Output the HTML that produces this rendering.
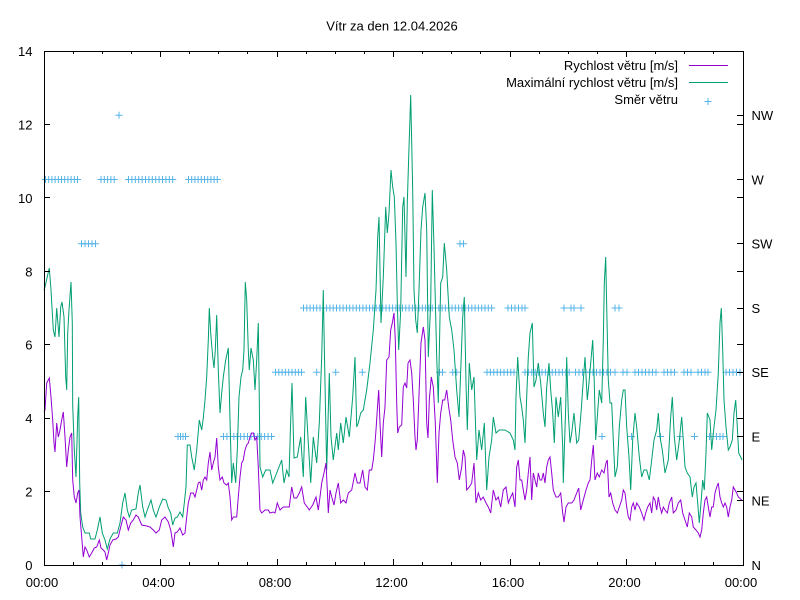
<!DOCTYPE html>
<html><head><meta charset="utf-8"><style>
html,body{margin:0;padding:0;background:#fff;}
svg{display:block;}
text{font-family:"Liberation Sans",Arial,sans-serif;font-size:13px;fill:#000;}
</style></head><body>
<svg width="800" height="600" viewBox="0 0 800 600" xmlns="http://www.w3.org/2000/svg">
<defs>
<marker id="m" markerWidth="9" markerHeight="9" refX="4.5" refY="4.5" markerUnits="userSpaceOnUse" overflow="visible"><path d="M1,4.5h7M4.5,1v7" stroke="#56b4e9" stroke-width="1" fill="none"/></marker>
</defs>
<rect width="800" height="600" fill="#fff"/>
<text x="392" y="30.5" text-anchor="middle">Vítr za den 12.04.2026</text>

<!-- direction points -->
<g fill="none" stroke="none" marker-start="url(#m)" marker-mid="url(#m)" marker-end="url(#m)">
<polyline points="45.5,179.5 48.7,179.5 51.9,179.5 55.1,179.5 58.3,179.5 61.5,179.5 64.7,179.5 67.9,179.5 71.1,179.5 74.3,179.5 77.5,179.5 101,179.5 104.3,179.5 107.6,179.5 110.9,179.5 114.2,179.5 128.5,179.5 131.9,179.5 135.3,179.5 138.7,179.5 142.1,179.5 145.5,179.5 148.9,179.5 152.3,179.5 155.7,179.5 159.1,179.5 162.5,179.5 165.9,179.5 169.3,179.5 172.7,179.5 188.5,179.5 191.7,179.5 194.9,179.5 198.1,179.5 201.3,179.5 204.5,179.5 207.7,179.5 210.9,179.5 214.1,179.5 217.3,179.5"/>
<polyline points="81.5,243.75 85,243.75 88.5,243.75 92,243.75 95.5,243.75 460,243.75 463.5,243.75"/>
<polyline points="119,115.25 122,565"/>
<polyline points="178,436.5 180.5,436.5 183,436.5 185.5,436.5 223.5,436.5 226.9,436.5 230.4,436.5 233.8,436.5 237.2,436.5 240.6,436.5 244.1,436.5 247.5,436.5 250.9,436.5 254.4,436.5 257.8,436.5 261.2,436.5 264.6,436.5 268.1,436.5 271.5,436.5 602,436.5 631.5,436.5 660.5,436.5 680,436.5 694.5,436.5 709.5,436.5 713,436.5 716.5,436.5 720,436.5 723,436.5"/>
<polyline points="275.5,372.25 278.8,372.25 282.1,372.25 285.4,372.25 288.7,372.25 292,372.25 295.3,372.25 298.6,372.25 301.5,372.25 316.7,372.25 335.7,372.25 362.3,372.25 439.5,372.25 442.5,372.25 452.7,372.25 456.7,372.25 487,372.25 490.4,372.25 493.8,372.25 497.2,372.25 500.6,372.25 504,372.25 507.4,372.25 510.8,372.25 514,372.25 525,372.25 528.4,372.25 531.8,372.25 535.2,372.25 538.6,372.25 542,372.25 545.4,372.25 548.8,372.25 552.2,372.25 555.6,372.25 559,372.25 562.4,372.25 565.8,372.25 569.2,372.25 575.5,372.25 579,372.25 582.5,372.25 586,372.25 589.5,372.25 593,372.25 596.5,372.25 600,372.25 603.5,372.25 607,372.25 610.5,372.25 615,372.25 623,372.25 627,372.25 635,372.25 638.5,372.25 642,372.25 645.5,372.25 649,372.25 652.5,372.25 656,372.25 664,372.25 667.5,372.25 671,372.25 674.5,372.25 684,372.25 687.5,372.25 691,372.25 698,372.25 701.5,372.25 705,372.25 708,372.25 726,372.25 729.5,372.25 733,372.25 736.5,372.25 740,372.25"/>
<polyline points="303.5,308 306.8,308 310.1,308 313.4,308 316.7,308 320,308 323.3,308 326.6,308 329.9,308 333.2,308 336.5,308 339.8,308 343.1,308 346.4,308 349.7,308 353,308 356.3,308 359.6,308 362.9,308 366.2,308 369.5,308 372.8,308 376.1,308 379.4,308 382.7,308 386,308 389.3,308 392.6,308 395.9,308 399.2,308 402.5,308 405.8,308 409.1,308 412.4,308 415.7,308 419,308 422.3,308 425.6,308 428.9,308 432.2,308 435.5,308 438.8,308 442.1,308 445.4,308 448.7,308 452,308 455.3,308 458.6,308 461.9,308 465.2,308 468.5,308 471.8,308 475.1,308 478.4,308 481.7,308 485,308 488.3,308 491.6,308 508,308 511.5,308 515,308 518.5,308 522,308 525,308 564,308 571,308 574,308 581,308 615,308 619,308"/>
</g>

<!-- max wind -->
<polyline fill="none" stroke="#009e73" stroke-width="1" points="44,290 45,287 47,278 49.3,268 51,290 53.3,330 55,337 56.7,308 59,337 60.7,307 62,302 64,317 65.7,377 66.7,390 67.7,333 69,310 71,282 72.3,323 72.7,405 74.3,450 76,477 77.7,417 78.7,397 79.7,483 80.7,513 82.7,527 85,533 89.3,533 90.7,539 95,539 97.3,530 100,517 102.3,533 105,540 107.3,549 110,539 113.3,533 117.3,533 120,523 122.7,503 125,493 127.3,510 129.3,517 131.7,510 136,509 138.3,493 140,485 142.7,507 145,517 147.3,510 151,500 153.3,510 156,517 159.3,507 162.7,499 166,500 168.3,508 170.7,513 172.7,525 175,518 177.3,517 180,512 182.7,517 184.3,503 186,487 187.3,445 190,445 191.7,457 194.3,470 196.7,450 199.3,420 201.7,430 203.3,418 205,400 206.7,377 208.3,340 209.3,308 210.7,333 212.7,357 214,368 215.3,350 216.7,315 218.3,370 220,413 221.7,393 223.3,377 225.7,360 228.3,348 230,420 231.7,483 233.3,463 235.7,483 237.3,450 239,397 241,377 242.7,370 244,350 245.3,282 246.7,300 248.3,350 249.3,370 251,348 253.3,360 255,390 256.7,360 258.3,323 259.3,400 260,467 262.7,477 265.7,470 270,470 272.7,483 276.7,473 281.7,460 284,483 286.7,470 289,477 290.7,420 292,383 294,458 297.3,457 300.7,437 303.3,477 305.7,397 308.3,443 310.7,483 313.3,437 316.7,463 319.3,423 321.7,357 323.3,290 324.3,347 326.7,470 329.3,373 331,437 333.3,460 336.7,433 338.3,450 340.7,423 343.3,443 346,417 349.3,437 352.7,397 355,357 356.7,427 358.3,423 360.7,413 363.3,410 366.7,390 370,363 373.3,330 376,290 377.7,237 379,217 381,323 383.3,277 385.7,207 387.3,233 389,213 391,170 392.7,187 394.3,197 396,243 397.3,303 398.7,350 400.7,310 402.7,207 404,197 406,277 407.3,203 408.7,157 410,117 410.7,95 412.7,190 414,290 415.7,320 417.3,333 419,290 421,230 422.7,207 425,193 426.7,230 428.3,357 430.7,303 432.3,190 434,247 436.7,357 438.3,403 440.7,283 442.7,277 444.3,243 446.7,270 449.3,317 451.7,330 454,350 456.7,390 459,417 461,363 462.7,317 464.3,297 466,383 467.3,430 469.3,363 471.7,390 474,377 475.7,430 476.7,460 479,430 481.7,450 484.3,423 486.7,490 489,457 491.7,440 493.3,417 496,433 499.3,430 505,430 510,433 513.3,440 515,450 516,397 517.7,357 520,397 521.7,407 523.3,420 525,443 526.7,397 528.3,357 530,333 532.3,323 534,387 536,380 538.3,363 540.7,383 543.3,413 545,427 546.7,387 549,363 550.7,390 552.7,413 554.3,443 556,397 558.3,417 560.7,397 562.7,447 563.3,483 565.7,407 566.7,357 568.3,413 570,443 571.7,433 574,413 576.7,443 578.7,440 581,413 583.3,380 585,357 587.3,400 589,383 590.7,363 592.7,340 594,373 595.7,440 597.3,417 599.3,390 601.7,403 603.3,340 604.3,283 605.7,257 606.7,307 608.3,380 610,403 611.7,403 613.3,440 615,477 617.3,467 619.3,427 621.7,400 623.3,390 625,390 626.7,427 629,457 630.7,490 632.7,440 635,413 636.7,427 639.3,457 641.7,477 644,470 646.7,470 649.3,480 651.7,460 654,440 656.7,430 658.3,413 660,437 662.3,450 665,473 668.3,460 670.7,417 672.3,397 674.3,437 676.7,460 679,443 681.7,417 683.3,440 685,467 687.3,473 690,477 692.3,497 694,487 696,483 697.7,503 699.3,523 701,503 702.7,480 704.3,490 706,453 707.3,413 710,420 711.7,450 714,427 716,410 718.3,373 720,323 721.3,308 722.7,350 724,400 726,427 728.3,450 730,447 732.3,440 734,413 735.7,400 737.3,427 738.7,453 740.7,457 742,460"/>

<!-- avg wind -->
<polyline fill="none" stroke="#9400d3" stroke-width="1" points="44,412 45,410 46.7,383 49.3,378 51,397 52.7,420 54,443 55,452 56.7,423 58.3,437 60,430 61.7,420 63.3,412 65,437 66.7,467 68.3,450 70,437 71.7,433 72.7,480 74.3,497 76,503 77.7,493 79,490 80,517 81.7,537 83.3,557 85,547 86.7,550 89.3,557 91.7,553 94.3,548 96.7,547 99.3,540 101,548 103.3,550 105,552 106.7,560 108.3,553 110,545 112.7,540 116,539 118.3,537 120.7,527 123.3,517 126,520 128.3,530 130.7,523 133.3,520 136,515 138.3,517 141.7,525 146.7,526 150,527 153.3,530 156,533 159.3,530 161.7,520 165,517 168.3,522 170.7,530 172.3,540 173.3,547 175,533 177.3,532 180,528 182.7,535 185,533 186.7,517 188.3,503 190.7,493 193.3,493 195,497 196.7,490 198.3,483 200,482 201.7,490 203.3,480 205,477 206.7,480 208.3,463 210,452 211.7,470 213.3,463 215,457 216.7,438 218.3,467 220,480 222.3,477 224,483 226.7,485 228.3,483 230,497 231.7,520 233.3,517 236.7,517 238.3,497 240,477 241.7,463 243.3,460 245,450 246.7,445 248.3,443 250,437 251.7,433 253.3,433 255,440 256.7,437 258.3,467 260,510 261.7,513 265,510 268.3,510 270,513 273.3,512 275,513 277.3,503 280,510 283.3,507 289.3,507 291.7,487 294,498 296.7,498 299.3,493 301.7,487 304.3,503 307.3,507 309.3,510 312.7,505 316,497 318.3,510 320,497 321.7,483 324,473 326,463 327.3,490 328.3,513 330,490 331.7,497 334,505 336,493 338.3,483 340.7,503 343.3,500 346,503 348.3,493 351.7,490 355,473 357.3,483 360,483 362.7,470 365,487 367.3,490 369.3,470 371.7,470 373.3,460 375,443 376,430 377.3,410 378.7,390 380,423 381.7,457 383.3,423 385,407 386.7,360 389,357 390.7,330 392.3,323 394,313 395.3,340 396.7,403 397.7,433 399.3,427 401.7,425 403.3,387 405,383 406.7,388 408,363 410,360 411.7,373 413.3,400 415,437 416,450 417.3,440 419.3,387 421,343 423.3,327 425,340 426.7,423 428,438 429.3,400 431.3,377 433.3,387 435.3,423 437.3,483 439,433 440.7,413 442.7,400 444.7,400 446.7,390 448.7,407 450.7,420 452.7,440 455,457 457.3,463 459.3,480 461.7,467 463.3,450 465,457 466.7,490 469.3,487 471.7,483 474,463 476,503 478.3,493 480.7,500 483.3,497 486,503 488.3,507 490.7,513 493.3,490 496,500 498.3,497 500.7,507 503.3,490 506,487 508.3,503 510.7,497 512.7,493 515,507 516.7,467 518.3,460 520,480 521.7,480 523.3,490 525,500 526.7,490 528.3,473 530,457 531.7,500 533.3,473 535,480 536.7,487 538.3,473 540,480 541.7,480 543.3,473 545,483 546.7,467 548.3,460 550,457 551.7,473 553.3,490 556,497 558.3,497 560.7,493 562.7,513 564,522 566,507 568.3,503 571.7,503 574,500 576.7,493 578.7,488 580.7,510 583.3,500 586,490 588.3,483 590,480 591.7,460 593.3,445 595,480 597.3,473 599.3,477 601.7,470 604,473 606,463 607.3,460 609,497 610.7,493 612.7,503 615,510 617.3,513 619.3,507 621.7,500 623.3,490 625,493 626.7,507 628.3,517 630,520 631.7,507 633.3,503 635,510 636.7,503 639.3,507 641.7,513 644,520 645.7,513 647.7,507 650,503 651.7,513 653.3,497 655,500 656.7,510 658.3,497 660,507 661.7,513 663.3,507 665,510 667.3,513 669.3,503 671.7,497 673.3,513 676,510 678.3,503 680.7,500 682.7,513 685,520 687.3,527 689.3,513 691.7,517 693.3,527 696,530 698.3,533 700,537 701.7,530 703.3,513 705,500 706.7,497 708.3,507 710,517 711.7,507 713.3,507 715,493 716.7,487 718.3,483 720,497 721.7,503 723.3,507 725,503 726.7,507 728.3,517 730,507 731.7,500 733.3,487 735,490 736.7,493 738.3,497 741.7,500"/>

<!-- border & ticks -->
<rect x="44.5" y="51.5" width="699" height="514" fill="none" stroke="#000" stroke-width="1"/>
<path stroke="#000" stroke-width="1" fill="none" d="
M44,565.5h6M44,491.5h6M44,418.5h6M44,344.5h6M44,271.5h6M44,197.5h6M44,124.5h6M44,51.5h6
M743,565.5h-6M743,491.5h-6M743,418.5h-6M743,344.5h-6M743,271.5h-6M743,197.5h-6M743,124.5h-6
M743,500.5h-6M743,436.5h-6M743,372.5h-6M743,308.5h-6M743,243.5h-6M743,179.5h-6M743,115.5h-6
M44.5,565v-6M160.5,565v-6M277.5,565v-6M393.5,565v-6M510.5,565v-6M626.5,565v-6M743.5,565v-6
M44.5,51v6M160.5,51v6M277.5,51v6M393.5,51v6M510.5,51v6M626.5,51v6M743.5,51v6
M73.5,565v-3M102.5,565v-3M131.5,565v-3M189.5,565v-3M218.5,565v-3M247.5,565v-3M306.5,565v-3M335.5,565v-3M364.5,565v-3M422.5,565v-3M451.5,565v-3M480.5,565v-3M539.5,565v-3M568.5,565v-3M597.5,565v-3M655.5,565v-3M684.5,565v-3M713.5,565v-3
M73.5,51v3M102.5,51v3M131.5,51v3M189.5,51v3M218.5,51v3M247.5,51v3M306.5,51v3M335.5,51v3M364.5,51v3M422.5,51v3M451.5,51v3M480.5,51v3M539.5,51v3M568.5,51v3M597.5,51v3M655.5,51v3M684.5,51v3M713.5,51v3"/>

<!-- y labels -->
<g text-anchor="end">
<text x="32.5" y="570">0</text>
<text x="32.5" y="496.6">2</text>
<text x="32.5" y="423.1">4</text>
<text x="32.5" y="349.7">6</text>
<text x="32.5" y="276.3">8</text>
<text x="32.5" y="202.9">10</text>
<text x="32.5" y="129.4">12</text>
<text x="32.5" y="56">14</text>
</g>
<g text-anchor="start">
<text x="751.5" y="570">N</text>
<text x="751.5" y="505.7">NE</text>
<text x="751.5" y="441.5">E</text>
<text x="751.5" y="377.2">SE</text>
<text x="751.5" y="313">S</text>
<text x="751.5" y="248.7">SW</text>
<text x="751.5" y="184.5">W</text>
<text x="751.5" y="120.2">NW</text>
</g>
<g text-anchor="middle">
<text x="42" y="587">00:00</text>
<text x="158.5" y="587">04:00</text>
<text x="275" y="587">08:00</text>
<text x="391.5" y="587">12:00</text>
<text x="508" y="587">16:00</text>
<text x="624.5" y="587">20:00</text>
<text x="741" y="587">00:00</text>
</g>

<!-- legend -->
<g text-anchor="end" style="font-size:13.7px">
<text x="678" y="70">Rychlost větru [m/s]</text>
<text x="678" y="87">Maximální rychlost větru [m/s]</text>
<text x="678" y="104">Směr větru</text>
</g>
<path d="M689,65.5h39" stroke="#9400d3" stroke-width="1"/>
<path d="M689,82.5h39" stroke="#009e73" stroke-width="1"/>
<path d="M704.5,101.5h7M708,98v7" stroke="#56b4e9" stroke-width="1"/>
</svg>
</body></html>
